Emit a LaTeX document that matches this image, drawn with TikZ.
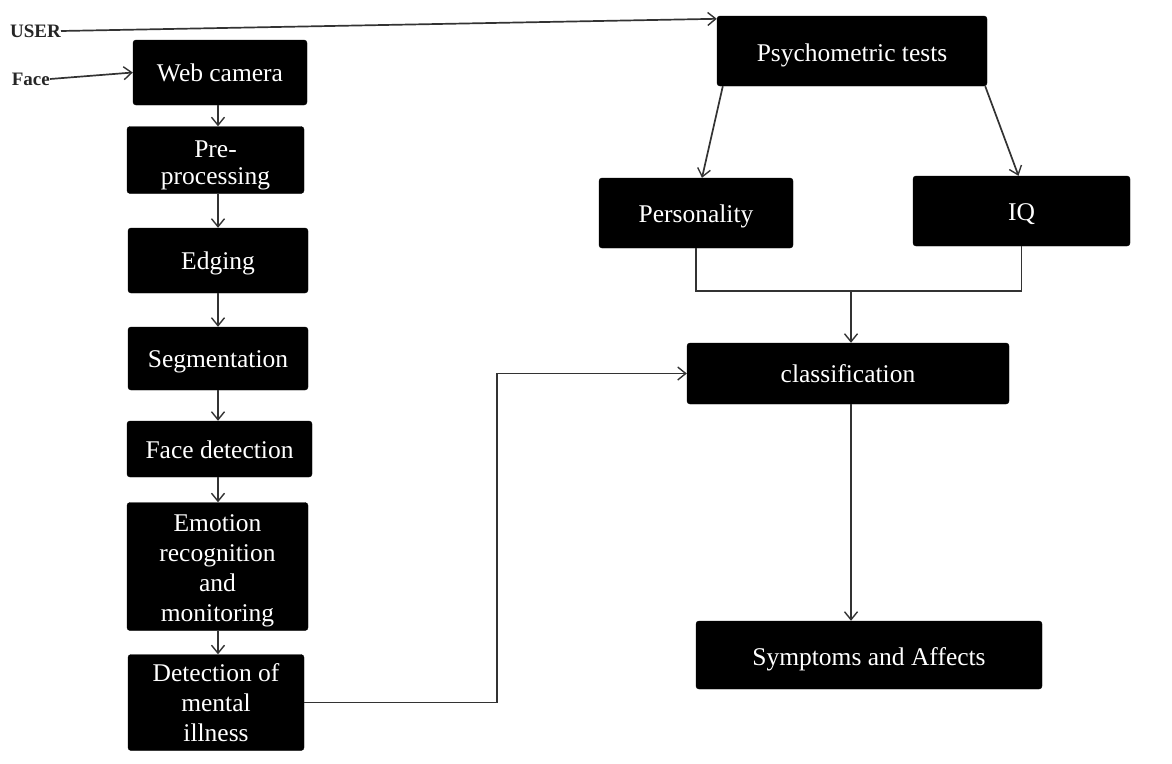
\documentclass[tikz,border=0pt]{standalone}
\usepackage{fontspec}
\setmainfont{Liberation Serif}
\usetikzlibrary{arrows.meta,calc}
% lower the text inside a box by #1 without moving the box
\newcommand{\bxt}[2]{\raisebox{-#1}[\dimexpr\height+#1\relax][\dimexpr\depth+#1\relax]{\begin{tabular}{@{}c@{}}#2\end{tabular}}}
\begin{document}
\begin{tikzpicture}[x=1pt,y=-1pt,
  box/.style={fill=black, draw=black, rounded corners=3pt, text=white,
    font=\fontsize{25.5}{30}\selectfont, align=center, inner sep=0pt},
  lbl/.style={font=\fontsize{19}{21}\selectfont\bfseries, inner sep=0pt, text=black!85},
  conn/.style={draw=black!80, line width=1.7pt},
  arr/.style={conn, -{Straight Barb[length=8pt,width=13pt,line width=1.4pt]}}]
\useasboundingbox (0,0) rectangle (1172,763);
% left column
\node[box, minimum width=174pt, minimum height=65pt] (web) at (220,72.5) {\bxt{3pt}{Web camera}};
\node[box, minimum width=177pt, minimum height=64pt] (pre) at (215.5,160) {\bxt{5pt}{Pre-\\[-3pt]processing}};
\node[box, minimum width=180pt, minimum height=65pt] (edg) at (218,260.5) {\bxt{3pt}{Edging}};
\node[box, minimum width=180pt, minimum height=63pt] (seg) at (218,358.5) {\bxt{3pt}{Segmentation}};
\node[box, minimum width=185pt, minimum height=56pt] (fd) at (219.5,449) {\bxt{3pt}{Face detection}};
\node[box, minimum width=181pt, minimum height=123pt] (emo) at (217.5,566.5) {\bxt{4pt}{Emotion\\recognition\\and\\monitoring}};
\node[box, minimum width=176pt, minimum height=95pt] (det) at (216,702.5) {\bxt{3pt}{Detection of\\mental\\illness}};
% right side
\node[box, minimum width=270pt, minimum height=70pt] (psy) at (852,51) {\bxt{4pt}{Psychometric tests}};
\node[box, minimum width=194pt, minimum height=70pt] (per) at (696,213) {\bxt{3pt}{Personality}};
\node[box, minimum width=217pt, minimum height=70pt] (iq) at (1021.5,211) {\bxt{3pt}{IQ}};
\node[box, minimum width=322pt, minimum height=61pt] (cls) at (848,373.5) {\bxt{3pt}{classification}};
\node[box, minimum width=346pt, minimum height=68pt] (sym) at (869,655) {\bxt{4pt}{Symptoms and Affects}};
% labels
\node[lbl, anchor=east] (user) at (61,31) {USER};
\node[lbl, anchor=east] (face) at (50,79) {Face};
% coordinates
\coordinate (col) at (218,0);
\coordinate (junc) at (851,291);
% connectors
\draw[arr] (user.east) -- ($(psy.north west)+(0,3)$);
\draw[arr] (face.east) -- (web.west);
\draw[arr] (web.south -| col) -- (pre.north -| col);
\draw[arr] (pre.south -| col) -- (edg.north -| col);
\draw[arr] (edg.south -| col) -- (seg.north -| col);
\draw[arr] (seg.south -| col) -- (fd.north -| col);
\draw[arr] (fd.south -| col) -- (emo.north -| col);
\draw[arr] (emo.south -| col) -- (det.north -| col);
\draw[arr] (det.east) -- ++(193,0) |- (cls.west);
\draw[arr] ($(psy.south west)+(6,0)$) -- ($(per.north)+(6,0)$);
\draw[arr] ($(psy.south east)+(-2,0)$) -- ($(iq.north)+(-3,0)$);
\draw[conn] (per.south) |- (junc) -| (iq.south);
\draw[arr] (junc) -- (junc |- cls.north);
\draw[arr] (junc |- cls.south) -- (junc |- sym.north);
\end{tikzpicture}
\end{document}
